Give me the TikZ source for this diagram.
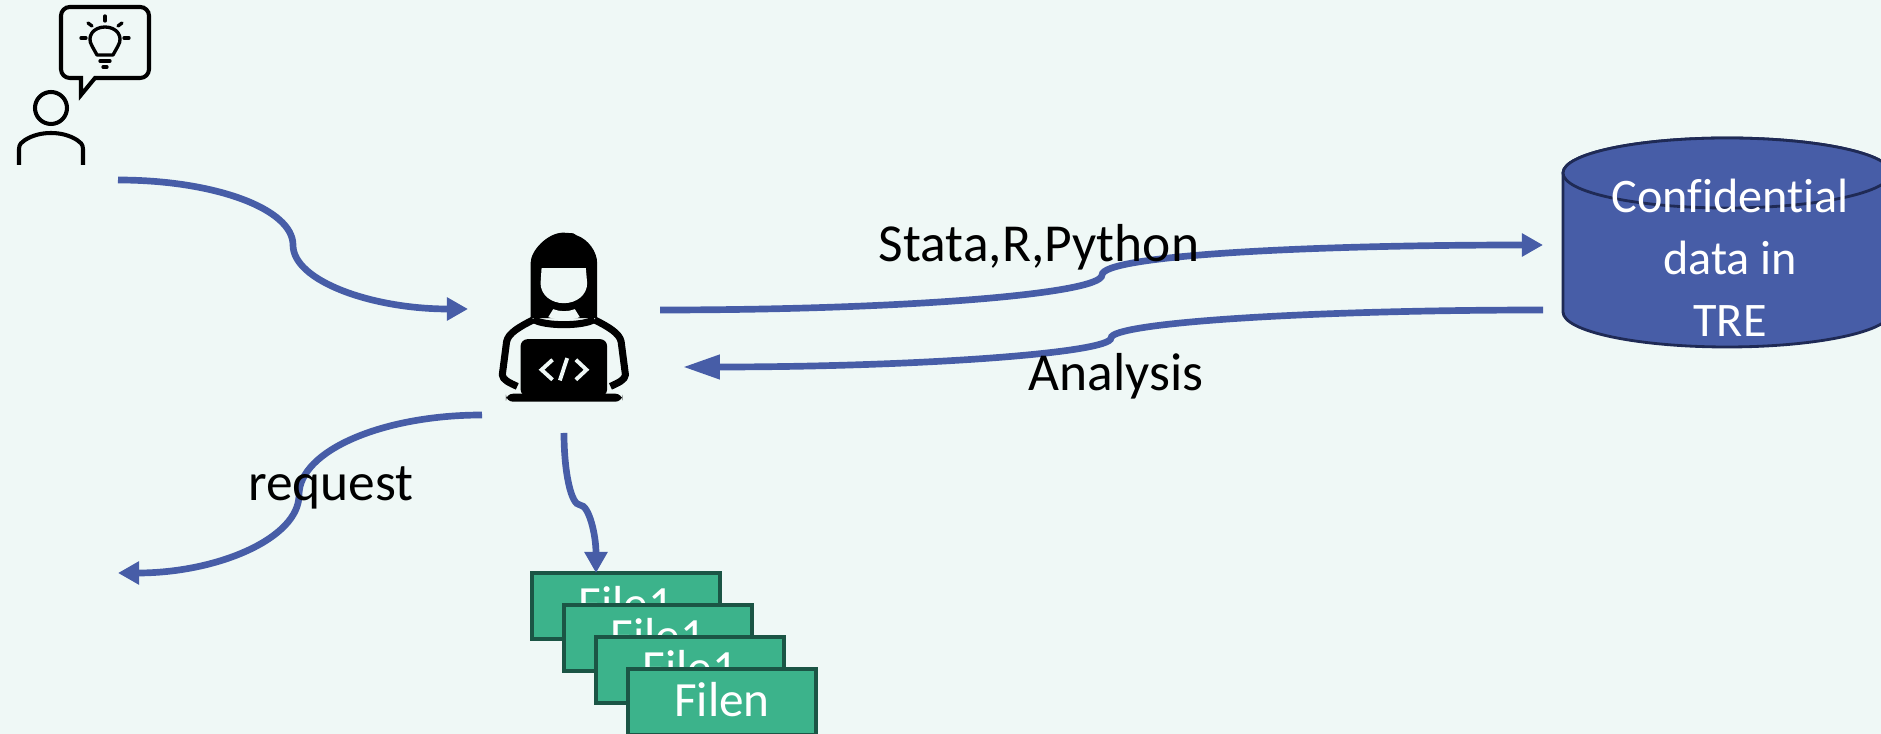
\documentclass[tikz,border=0pt]{standalone}
\usepackage{fontspec}
\setmainfont{Carlito}[Ligatures=NoCommon]
\usepackage{tikz}
\usetikzlibrary{calc}
\usetikzlibrary{arrows.meta}
\definecolor{paper}{HTML}{EFF8F6}
\definecolor{flowblue}{HTML}{475DA7}
\definecolor{treline}{HTML}{1F2A55}
\definecolor{filegreen}{HTML}{3CB38B}
\definecolor{fileline}{HTML}{1B5545}

\begin{document}
\begin{tikzpicture}[x=0.01cm,y=-0.01cm]
    \tikzset{
        file/.style={draw=fileline, fill=filegreen, line width=0.9pt, minimum width=1.88cm, minimum height=0.66cm, text=white, text depth=1.5pt, font=\fontsize{14}{17}\selectfont},
        line/.style={draw=flowblue, line width=1.9pt, -{Triangle[length=6pt,width=6.3pt]}},
        longline/.style={draw=flowblue, line width=1.9pt, -{Triangle[length=10.5pt,width=6.6pt]}},
        word/.style={text=black, font=\fontsize{15.2}{18}\selectfont},
        icon/.style={draw=black, line width=1.15pt, line cap=round, line join=round},
        bulb/.style={draw=black, line width=0.95pt, line cap=round, line join=round},
        store/.style={draw=treline, fill=flowblue, line width=0.8pt},
    };
    \clip (0,0) rectangle (1881,734);
    \fill [paper] (0,0) rectangle (1881,734);

    % person with idea
    \draw [icon] (51,108) circle (16);
    \draw [icon, line cap=butt] (19,165) -- (19,149) .. controls (19,144) and (22,142) .. (25,140) .. controls (33,135) and (42,133) .. (51,133) .. controls (60,133) and (69,135) .. (77,140) .. controls (80,142) and (83,144) .. (83,149) -- (83,165);
    \draw [icon, line join=miter] (81,95) -- (81,78) [rounded corners=2.5pt] -- (61,78) -- (61,7) -- (149,7) -- (149,78) [sharp corners] -- (95,78) -- cycle;
    \draw [bulb] (97,55) -- (92,46) .. controls (86,36) and (94,27) .. (105,27) .. controls (116,27) and (124,36) .. (118,46) -- (113,55) -- cycle;
    \draw [bulb] (105,16) -- (105,21);
    \draw [bulb] (88,23) -- (92,26);
    \draw [bulb] (122,23) -- (118,26);
    \draw [bulb] (81,38) -- (86,38);
    \draw [bulb] (124,38) -- (129,38);
    \draw [bulb] (100,61) -- (110,61);
    \draw [bulb] (103,67) -- (107,67);

    % coder at the laptop
    \begin{scope}[shift={(480,220)},x=0.00333cm,y=-0.00333cm]
        \fill [black] (152,295) -- (152,130) .. controls (152,90) and (205,38) .. (250,38) -- (280,40) -- (290,46) .. controls (325,58) and (352,95) .. (352,130) -- (352,295) -- cycle;
        \fill [paper] (185,145) -- (318,145) -- (322,190) .. controls (322,225) and (290,250) .. (252,250) .. controls (214,250) and (182,225) .. (182,190) -- cycle;
        \fill [paper] (220,268) .. controls (240,276) and (265,276) .. (285,268) -- (300,292) .. controls (270,302) and (235,302) .. (205,292) -- cycle;
        \draw [black, line width=2pt, line join=round] (160,300) .. controls (120,320) and (85,340) .. (80,365) -- (67,465) .. controls (67,480) and (90,490) .. (112,500);
        \draw [black, line width=2pt, line join=round] (344,300) .. controls (384,320) and (419,340) .. (424,365) -- (437,465) .. controls (437,480) and (414,490) .. (392,500);
        \draw [black, line width=2pt] (160,298) .. controls (190,320) and (314,320) .. (344,298);
        \fill [black, rounded corners=2pt] (122,358) rectangle (382,530);
        \fill [black, rounded corners=2pt] (78,522) rectangle (428,546);
        \draw [paper, line width=1.1pt] (218,420) -- (185,450) -- (218,480);
        \draw [paper, line width=1.1pt] (262,415) -- (240,482);
        \draw [paper, line width=1.1pt] (288,420) -- (320,450) -- (288,480);
    \end{scope}

    % data store
    \draw [store] (1563,173) -- (1563,312) arc [start angle=180, end angle=0, x radius=164, y radius=35] -- (1891,173) arc [start angle=0, end angle=-180, x radius=164, y radius=35] -- cycle;
    \draw [store] (1727,173) ellipse [x radius=164, y radius=35];
    \node [align=center, text=white, font=\fontsize{13.7}{17.6}\selectfont] (tre) at (1730,258) {Confidential\\data in\\TRE};

    % output files
    \node [file] (file1) at (626,606) {File1};
    \node [file] (file2) at ($(file1)+(32,32)$) {File1};
    \node [file] (file3) at ($(file2)+(32,32)$) {File1};
    \node [file] (filen) at ($(file3)+(32,32)$) {Filen};

    % free ends of the connectors
    \coordinate (idea) at (118,180);
    \coordinate (ideamid) at (293,245);
    \coordinate (coderin) at (468,309);
    \coordinate (coderout) at (660,310);
    \coordinate (codemid) at (1102,275);
    \coordinate (trein) at (1543,245);
    \coordinate (treout) at (1543,310);
    \coordinate (resultmid) at (1111,338);
    \coordinate (coderback) at (683,367);
    \coordinate (reqstart) at (482,415);
    \coordinate (reqmid) at (299,495);
    \coordinate (reqend) at (118,573);
    \coordinate (filestart) at (564,433);
    \coordinate (filemid) at (580,505);
    \coordinate (fileend) at (596,573);

    \path [line] (idea) .. controls +(97,0) and +(0,-36) .. (ideamid) .. controls +(0,36) and +(-96,0) .. (coderin);
    \path [line] (coderout) .. controls +(243,0) and +(0,19) .. (codemid) .. controls +(0,-19) and +(-243,0) .. (trein);
    \path [longline] (treout) .. controls +(-238,0) and +(0,-15) .. (resultmid) .. controls +(0,15) and +(235,0) .. (coderback);
    \path [line] (reqstart) .. controls +(-100,0) and +(0,-44) .. (reqmid) .. controls +(0,43) and +(100,0) .. (reqend);
    \path [line] (filestart) .. controls +(0,39) and +(-9,0) .. (filemid) .. controls +(9,0) and +(0,-38) .. (fileend);

    % labels
    \node [word] (tools) at (1039,247) {Stata,R,Python};
    \node [word] (analysis) at (1116,376) {Analysis};
    \node [word] (request) at (331,488) {request};
\end{tikzpicture}
\end{document}
